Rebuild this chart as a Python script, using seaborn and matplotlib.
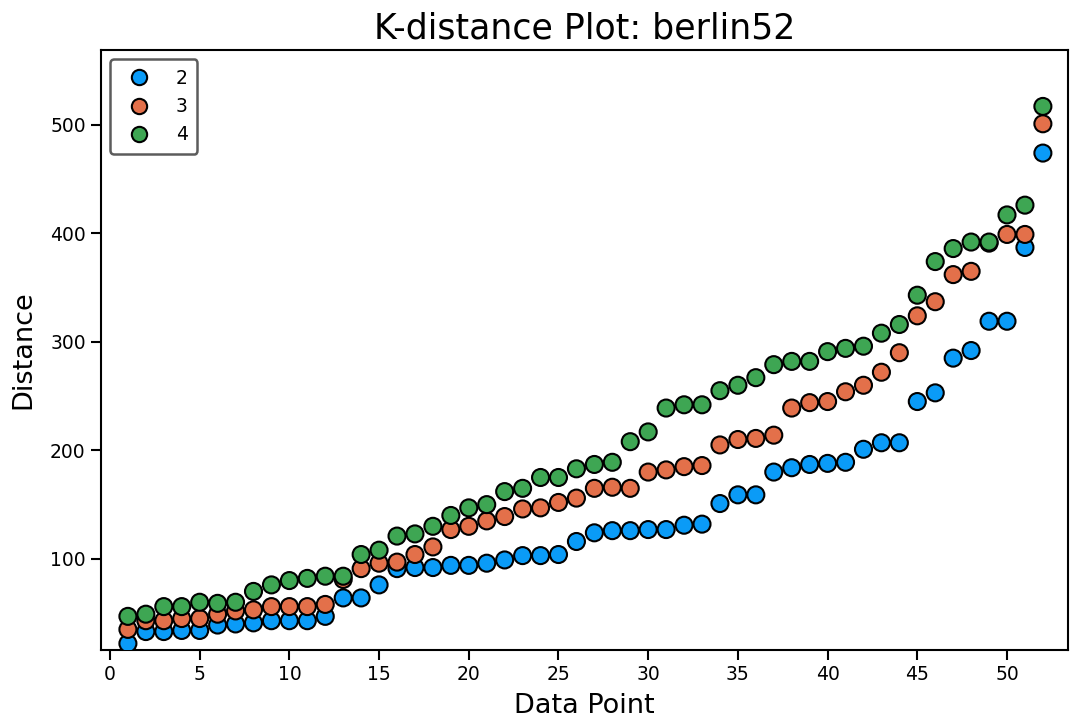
import numpy as np
import pandas as pd
import matplotlib
matplotlib.use("Agg")
import matplotlib.pyplot as plt
import seaborn as sns

points = list(range(1, 53))
k2 = [22, 33, 33, 34, 34, 39, 40, 41, 43, 43, 43, 47, 64, 64, 76, 91, 92, 92, 94, 94,
      96, 99, 103, 103, 104, 116, 124, 126, 126, 127, 127, 131, 132, 151, 159, 159, 180, 184, 187, 188,
      189, 201, 207, 207, 245, 253, 285, 292, 319, 319, 387, 474]
k3 = [35, 43, 43, 45, 45, 49, 52, 53, 56, 56, 56, 58, 81, 91, 96, 97, 104, 111, 127, 130,
      135, 139, 146, 147, 152, 156, 165, 166, 165, 180, 182, 185, 186, 205, 210, 211, 214, 239, 244, 245,
      254, 260, 272, 290, 324, 337, 362, 365, 391, 399, 399, 501]
k4 = [47, 49, 56, 56, 60, 59, 60, 70, 76, 80, 82, 84, 84, 104, 108, 121, 123, 130, 140, 147,
      150, 162, 165, 175, 175, 183, 187, 189, 208, 217, 239, 242, 242, 255, 260, 267, 279, 282, 282, 291,
      294, 296, 308, 316, 343, 374, 386, 392, 392, 417, 426, 517]
k_labels = ["2", "3", "4"]
colors = ["#0a9bf7", "#e3704a", "#3ea653"]

df = pd.concat([
    pd.DataFrame({"Data Point": points, "Distance": vals, "k": lab})
    for vals, lab in zip([k2, k3, k4], k_labels)
], ignore_index=True)

sns.set_style("ticks")
plt.rcParams["font.family"] = ["DejaVu Sans"]
plt.rcParams["text.color"] = "black"
plt.rcParams["axes.labelcolor"] = "black"
plt.rcParams["xtick.color"] = "black"
plt.rcParams["ytick.color"] = "black"

fig = plt.figure(figsize=(10.7, 7.2), dpi=100)
ax = fig.add_axes([101/1070, 1 - 650/720, (1068-101)/1070, (650-50)/720])

sns.scatterplot(data=df, x="Data Point", y="Distance", hue="k",
                palette=dict(zip(k_labels, colors)), s=150,
                edgecolor="black", linewidth=1.5, ax=ax, zorder=3)

ax.set_xlim(-0.5, 53.4)
ax.set_ylim(16, 569)
ax.set_xticks(range(0, 51, 5))
ax.set_yticks([100, 200, 300, 400, 500])
ax.tick_params(labelsize=13.5, direction="out", length=7, width=1.5, color="black", pad=4)
for sp in ax.spines.values():
    sp.set_visible(True)
    sp.set_color("black")
    sp.set_linewidth(1.5)
ax.set_xlabel("Data Point", fontsize=19.5, labelpad=6)
ax.set_ylabel("Distance", fontsize=19.5, labelpad=10)
ax.set_title("K-distance Plot: berlin52", fontsize=25, pad=8)

leg = ax.legend(loc="upper left", title=None, fontsize=13.5, frameon=True,
                fancybox=True, borderpad=0.5, handletextpad=1.0, markerscale=0.9,
                borderaxespad=0.5)
leg.get_frame().set_edgecolor("#333333")
leg.get_frame().set_linewidth(1.8)

fig.savefig("out.png", dpi=100)
